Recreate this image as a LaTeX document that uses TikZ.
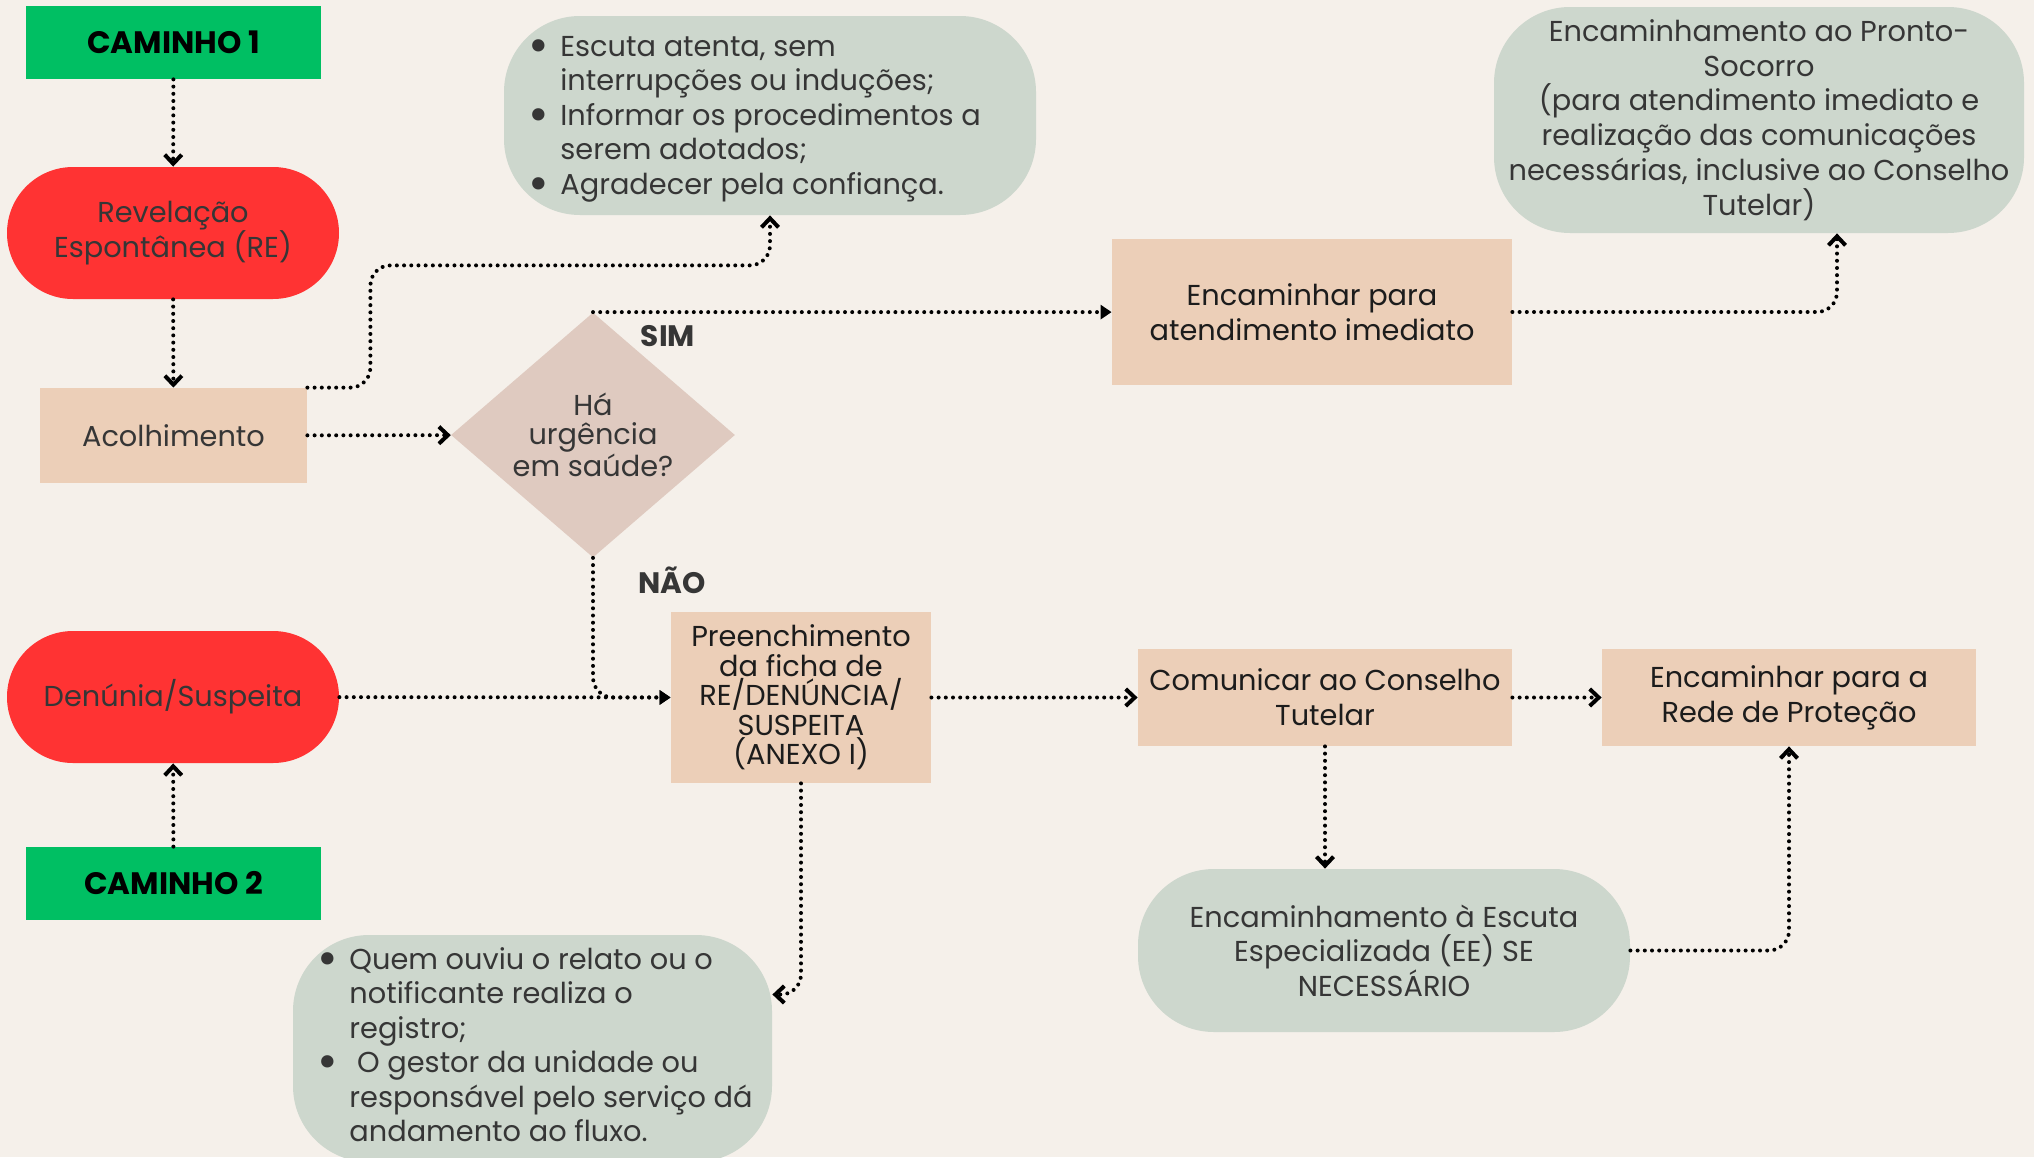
\documentclass[tikz,border=0pt]{standalone}
\usepackage{fontspec}
\setmainfont{Poppins}
\usetikzlibrary{arrows.meta,shapes.geometric,calc}
\definecolor{bg}{HTML}{F5F0EA}
\definecolor{grn}{HTML}{00BF63}
\definecolor{redc}{HTML}{FF3333}
\definecolor{peach}{HTML}{ECCFB8}
\definecolor{diac}{HTML}{DFCAC0}
\definecolor{sage}{HTML}{CDD7CD}
\definecolor{txt}{HTML}{363636}
\definecolor{txtd}{HTML}{1C1C1C}
\tikzset{
  base/.style={inner sep=0pt, align=center, font=\fontsize{14.4}{17.4}\selectfont, text=txtd},
  greenbox/.style={base, fill=grn, minimum width=147.5pt, minimum height=36.5pt, font=\fontsize{15.5}{17}\selectfont\bfseries, text=black},
  pill/.style={base, fill=redc, rounded corners=33pt, minimum width=166pt, minimum height=66pt, text=txt},
  peachbox/.style={base, fill=peach},
  bubble/.style={fill=sage, rounded corners=38pt, inner sep=0pt},
  bubtext/.style={base, align=left, text=txt, font=\fontsize{14.4}{17.25}\selectfont},
  lbl/.style={inner sep=0pt, font=\fontsize{14.8}{17}\selectfont\bfseries, text=txt},
  flow/.style={line width=2pt, dash pattern=on 0pt off 3.6pt, line cap=round, rounded corners=10pt},
  chev/.style={-{Straight Barb[length=4.5pt,width=8.5pt,line width=2pt]}},
  tri/.style={-{Triangle[length=5.5pt,width=7pt]}}
}
\newcommand{\bul}{\makebox[16pt][l]{\raisebox{-3pt}{\fontsize{25}{25}\selectfont\textbullet}}}
\newcommand{\ind}{\hspace*{16pt}}
\begin{document}
\begin{tikzpicture}[x=0.5pt,y=-0.5pt]
\useasboundingbox (0,0) rectangle (2034,1157);
\clip (0,0) rectangle (2034,1157);
\fill[bg] (0,0) rectangle (2034,1157);

% nodes
\node[greenbox] (c1) at (173.5,42.5) {CAMINHO 1};
\node[pill] (re) at (173,233) {Revelação\\Espontânea (RE)};
\node[peachbox, minimum width=133.5pt, minimum height=47.5pt, text=txt] (acol) at (173.5,435.5) {Acolhimento};
\node[diamond, fill=diac, minimum width=142pt, minimum height=122.5pt, inner sep=0pt, align=center,
      font=\fontsize{14.4}{14.5}\selectfont, text=txt] (dia) at (593,435) {Há\\urgência\\em saúde?};
\node[lbl] (sim) at (668,336) {SIM};
\node[lbl] (nao) at (672,580) {NÃO};

\node[bubble, minimum width=266pt, minimum height=99.5pt] (b1) at (770,115.5) {};
\node[bubtext, anchor=base west] (b1t) at (528,194) {\bul Escuta atenta, sem\\\ind interrupções ou induções;\\\bul Informar os procedimentos a\\\ind serem adotados;\\\bul Agradecer pela confiança.};

\node[peachbox, minimum width=200pt, minimum height=73pt] (ei) at (1312,312) {Encaminhar para\\atendimento imediato};
\node[bubble, minimum width=265pt, minimum height=113pt, align=center, text=txt,
      font=\fontsize{14.4}{17.4}\selectfont] (ps) at (1759,120) {Encaminhamento ao Pronto-\\Socorro\\(para atendimento imediato e\\realização das comunicações\\necessárias, inclusive ao Conselho\\Tutelar)};

\node[pill] (den) at (173,697) {Denúnia/Suspeita};
\node[greenbox] (c2) at (173.5,883.5) {CAMINHO 2};
\node[peachbox, minimum width=130pt, minimum height=85.5pt, font=\fontsize{14.4}{14.75}\selectfont] (pre) at (801,697.5) {Preenchimento\\da ficha de\\RE/DENÚNCIA/\\SUSPEITA\\(ANEXO I)};
\node[peachbox, minimum width=187pt, minimum height=48.5pt] (com) at (1325,697.5) {Comunicar ao Conselho\\Tutelar};
\node[peachbox, minimum width=187pt, minimum height=48.5pt] (rede) at (1789,697.5) {Encaminhar para a\\Rede de Proteção};
\node[bubble, minimum width=246pt, minimum height=81.5pt, align=center, text=txt,
      font=\fontsize{14.4}{17.25}\selectfont] (ee) at (1384,950.5) {Encaminhamento à Escuta\\Especializada (EE) SE\\NECESSÁRIO};

\node[bubble, minimum width=239.5pt, minimum height=113.5pt] (b3) at (532.5,1048.5) {};
\node[bubtext, anchor=base west] (b3t) at (317,1141.5) {\bul Quem ouviu o relato ou o\\\ind notificante realiza o\\\ind registro;\\\bul\ O gestor da unidade ou\\\ind responsável pelo serviço dá\\\ind andamento ao fluxo.};

% connectors
\draw[flow, chev] (c1) -- (re);
\draw[flow, chev] (re) -- (acol);
\draw[flow, chev] (acol) -- (dia);
\draw[flow, chev] (acol.north east) -- ++(63,0) |- ($(b1.south)+(0,50)$) -- (b1.south);
\draw[flow, tri] (dia.north) -- (dia.north -| ei.west);
\draw[flow, chev] (ei.east) -| ($(ps.south)+(78,0)$);
\draw[flow, tri] (dia.south) |- (pre.west);
\draw[flow, tri] (den) -- (pre);
\draw[flow, chev] (c2) -- (den);
\draw[flow, chev] (pre) -- (com);
\draw[flow, chev] (com) -- (rede);
\draw[flow, chev] (com.south) -- (com.south |- ee.north);
\draw[flow, chev] (ee.east) -| (rede.south);
\draw[flow, chev] (pre.south) |- ($(b3.east)+(0,-54)$);
\end{tikzpicture}
\end{document}
